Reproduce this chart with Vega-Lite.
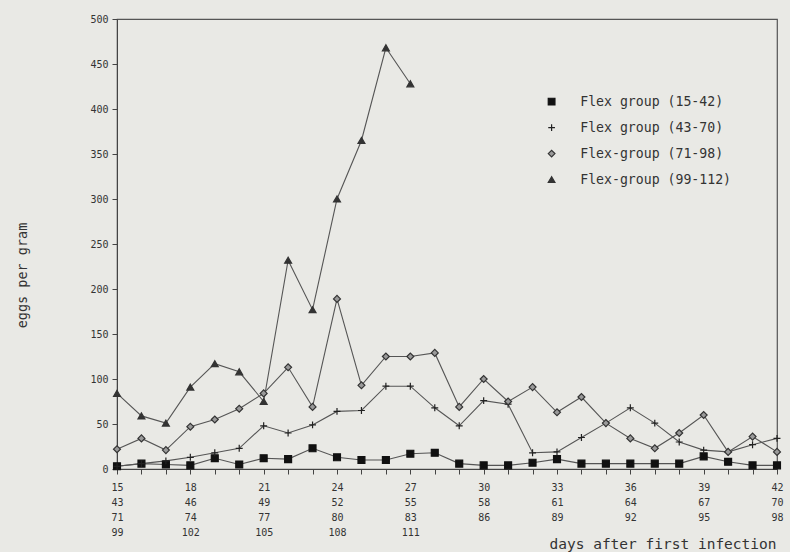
{
  "$schema": "https://vega.github.io/schema/vega-lite/v6.json",
  "width": 660,
  "height": 450,
  "autosize": {"type": "none"},
  "padding": {"left": 117, "top": 19, "right": 13, "bottom": 83},
  "background": "#e9e9e5",
  "config": {
    "view": {"stroke": "#555", "strokeWidth": 1.2},
    "font": "DejaVu Sans Mono",
    "axis": {"labelFont": "DejaVu Sans Mono", "titleFont": "DejaVu Sans Mono", "labelColor": "#333", "titleColor": "#333", "domainColor": "#444", "tickColor": "#444", "grid": false, "labelFontSize": 10, "titleFontSize": 13.5, "titleFontWeight": "normal"},
    "legend": {"labelFont": "DejaVu Sans Mono", "labelFontSize": 13.2, "labelColor": "#333"}
  },
  "data": {"values": [
    {"day": 15, "group": "Flex group (15-42)", "epg": 3},
    {"day": 16, "group": "Flex group (15-42)", "epg": 6},
    {"day": 17, "group": "Flex group (15-42)", "epg": 5},
    {"day": 18, "group": "Flex group (15-42)", "epg": 4},
    {"day": 19, "group": "Flex group (15-42)", "epg": 12},
    {"day": 20, "group": "Flex group (15-42)", "epg": 5},
    {"day": 21, "group": "Flex group (15-42)", "epg": 12},
    {"day": 22, "group": "Flex group (15-42)", "epg": 11},
    {"day": 23, "group": "Flex group (15-42)", "epg": 23},
    {"day": 24, "group": "Flex group (15-42)", "epg": 13},
    {"day": 25, "group": "Flex group (15-42)", "epg": 10},
    {"day": 26, "group": "Flex group (15-42)", "epg": 10},
    {"day": 27, "group": "Flex group (15-42)", "epg": 17},
    {"day": 28, "group": "Flex group (15-42)", "epg": 18},
    {"day": 29, "group": "Flex group (15-42)", "epg": 6},
    {"day": 30, "group": "Flex group (15-42)", "epg": 4},
    {"day": 31, "group": "Flex group (15-42)", "epg": 4},
    {"day": 32, "group": "Flex group (15-42)", "epg": 7},
    {"day": 33, "group": "Flex group (15-42)", "epg": 11},
    {"day": 34, "group": "Flex group (15-42)", "epg": 6},
    {"day": 35, "group": "Flex group (15-42)", "epg": 6},
    {"day": 36, "group": "Flex group (15-42)", "epg": 6},
    {"day": 37, "group": "Flex group (15-42)", "epg": 6},
    {"day": 38, "group": "Flex group (15-42)", "epg": 6},
    {"day": 39, "group": "Flex group (15-42)", "epg": 14},
    {"day": 40, "group": "Flex group (15-42)", "epg": 8},
    {"day": 41, "group": "Flex group (15-42)", "epg": 4},
    {"day": 42, "group": "Flex group (15-42)", "epg": 4},
    {"day": 15, "group": "Flex group (43-70)", "epg": 3},
    {"day": 16, "group": "Flex group (43-70)", "epg": 6},
    {"day": 17, "group": "Flex group (43-70)", "epg": 9},
    {"day": 18, "group": "Flex group (43-70)", "epg": 13},
    {"day": 19, "group": "Flex group (43-70)", "epg": 18},
    {"day": 20, "group": "Flex group (43-70)", "epg": 23},
    {"day": 21, "group": "Flex group (43-70)", "epg": 48},
    {"day": 22, "group": "Flex group (43-70)", "epg": 40},
    {"day": 23, "group": "Flex group (43-70)", "epg": 49},
    {"day": 24, "group": "Flex group (43-70)", "epg": 64},
    {"day": 25, "group": "Flex group (43-70)", "epg": 65},
    {"day": 26, "group": "Flex group (43-70)", "epg": 92},
    {"day": 27, "group": "Flex group (43-70)", "epg": 92},
    {"day": 28, "group": "Flex group (43-70)", "epg": 68},
    {"day": 29, "group": "Flex group (43-70)", "epg": 48},
    {"day": 30, "group": "Flex group (43-70)", "epg": 76},
    {"day": 31, "group": "Flex group (43-70)", "epg": 72},
    {"day": 32, "group": "Flex group (43-70)", "epg": 18},
    {"day": 33, "group": "Flex group (43-70)", "epg": 19},
    {"day": 34, "group": "Flex group (43-70)", "epg": 35},
    {"day": 35, "group": "Flex group (43-70)", "epg": 51},
    {"day": 36, "group": "Flex group (43-70)", "epg": 68},
    {"day": 37, "group": "Flex group (43-70)", "epg": 51},
    {"day": 38, "group": "Flex group (43-70)", "epg": 30},
    {"day": 39, "group": "Flex group (43-70)", "epg": 21},
    {"day": 40, "group": "Flex group (43-70)", "epg": 19},
    {"day": 41, "group": "Flex group (43-70)", "epg": 27},
    {"day": 42, "group": "Flex group (43-70)", "epg": 34},
    {"day": 15, "group": "Flex-group (71-98)", "epg": 22},
    {"day": 16, "group": "Flex-group (71-98)", "epg": 34},
    {"day": 17, "group": "Flex-group (71-98)", "epg": 21},
    {"day": 18, "group": "Flex-group (71-98)", "epg": 47},
    {"day": 19, "group": "Flex-group (71-98)", "epg": 55},
    {"day": 20, "group": "Flex-group (71-98)", "epg": 67},
    {"day": 21, "group": "Flex-group (71-98)", "epg": 84},
    {"day": 22, "group": "Flex-group (71-98)", "epg": 113},
    {"day": 23, "group": "Flex-group (71-98)", "epg": 69},
    {"day": 24, "group": "Flex-group (71-98)", "epg": 189},
    {"day": 25, "group": "Flex-group (71-98)", "epg": 93},
    {"day": 26, "group": "Flex-group (71-98)", "epg": 125},
    {"day": 27, "group": "Flex-group (71-98)", "epg": 125},
    {"day": 28, "group": "Flex-group (71-98)", "epg": 129},
    {"day": 29, "group": "Flex-group (71-98)", "epg": 69},
    {"day": 30, "group": "Flex-group (71-98)", "epg": 100},
    {"day": 31, "group": "Flex-group (71-98)", "epg": 75},
    {"day": 32, "group": "Flex-group (71-98)", "epg": 91},
    {"day": 33, "group": "Flex-group (71-98)", "epg": 63},
    {"day": 34, "group": "Flex-group (71-98)", "epg": 80},
    {"day": 35, "group": "Flex-group (71-98)", "epg": 51},
    {"day": 36, "group": "Flex-group (71-98)", "epg": 34},
    {"day": 37, "group": "Flex-group (71-98)", "epg": 23},
    {"day": 38, "group": "Flex-group (71-98)", "epg": 40},
    {"day": 39, "group": "Flex-group (71-98)", "epg": 60},
    {"day": 40, "group": "Flex-group (71-98)", "epg": 19},
    {"day": 41, "group": "Flex-group (71-98)", "epg": 36},
    {"day": 42, "group": "Flex-group (71-98)", "epg": 19},
    {"day": 15, "group": "Flex-group (99-112)", "epg": 84},
    {"day": 16, "group": "Flex-group (99-112)", "epg": 59},
    {"day": 17, "group": "Flex-group (99-112)", "epg": 51},
    {"day": 18, "group": "Flex-group (99-112)", "epg": 91},
    {"day": 19, "group": "Flex-group (99-112)", "epg": 117},
    {"day": 20, "group": "Flex-group (99-112)", "epg": 108},
    {"day": 21, "group": "Flex-group (99-112)", "epg": 75},
    {"day": 22, "group": "Flex-group (99-112)", "epg": 232},
    {"day": 23, "group": "Flex-group (99-112)", "epg": 177},
    {"day": 24, "group": "Flex-group (99-112)", "epg": 300},
    {"day": 25, "group": "Flex-group (99-112)", "epg": 365},
    {"day": 26, "group": "Flex-group (99-112)", "epg": 468},
    {"day": 27, "group": "Flex-group (99-112)", "epg": 428}
  ]},
  "encoding": {
    "x": {"field": "day", "type": "quantitative",
      "scale": {"domain": [15, 42], "nice": false, "zero": false},
      "axis": {
        "values": [15,16,17,18,19,20,21,22,23,24,25,26,27,28,29,30,31,32,33,34,35,36,37,38,39,40,41,42],
        "labelExpr": "datum.value % 3 != 0 ? '' : (datum.value <= 27 ? [toString(datum.value), toString(datum.value + 28), toString(datum.value + 56), toString(datum.value + 84)] : [toString(datum.value), toString(datum.value + 28), toString(datum.value + 56)])",
        "labelLineHeight": 15,
        "labelPadding": 8,
        "labelBaseline": "top",
        "tickSize": 5,
        "labelFlush": false,
        "title": "days after first infection",
        "titleFontSize": 14.5,
        "titleAnchor": "end",
        "titleX": 659,
        "titleY": 75,
        "titleBaseline": "middle"
      }},
    "y": {"field": "epg", "type": "quantitative",
      "scale": {"domain": [0, 500], "nice": false},
      "axis": {"values": [0,50,100,150,200,250,300,350,400,450,500], "tickSize": 5, "labelPadding": 4, "title": "eggs per gram", "titleX": -95, "titleY": 256, "titleAnchor": "middle", "titleBaseline": "middle"}}
  },
  "layer": [
    {
      "mark": {"type": "line", "color": "#555", "strokeWidth": 1.1},
      "encoding": {"detail": {"field": "group", "type": "nominal"}}
    },
    {
      "mark": {"type": "point", "filled": true, "strokeWidth": 1.2, "opacity": 1},
      "encoding": {
        "shape": {"field": "group", "type": "nominal",
          "scale": {"domain": ["Flex group (15-42)", "Flex group (43-70)", "Flex-group (71-98)", "Flex-group (99-112)"],
                    "range": ["square", "M-1,0H1M0,-1V1", "diamond", "triangle-up"]},
          "legend": {"title": null, "orient": "none", "legendX": 428, "legendY": 76, "rowPadding": 12, "labelOffset": 22, "symbolSize": 45, "symbolStrokeWidth": 1.2}},
        "fill": {"field": "group", "type": "nominal",
          "scale": {"domain": ["Flex group (15-42)", "Flex group (43-70)", "Flex-group (71-98)", "Flex-group (99-112)"],
                    "range": ["#111", "#222", "#9a9a9a", "#333"]},
          "legend": {"title": null, "orient": "none", "legendX": 428, "legendY": 76, "rowPadding": 12, "labelOffset": 22, "symbolSize": 45, "symbolStrokeWidth": 1.2}},
        "stroke": {"field": "group", "type": "nominal",
          "scale": {"domain": ["Flex group (15-42)", "Flex group (43-70)", "Flex-group (71-98)", "Flex-group (99-112)"],
                    "range": ["#111", "#222", "#333", "#333"]},
          "legend": {"title": null, "orient": "none", "legendX": 428, "legendY": 76, "rowPadding": 12, "labelOffset": 22, "symbolSize": 45, "symbolStrokeWidth": 1.2}},
        "size": {"value": 48}
      }
    }
  ]
}
